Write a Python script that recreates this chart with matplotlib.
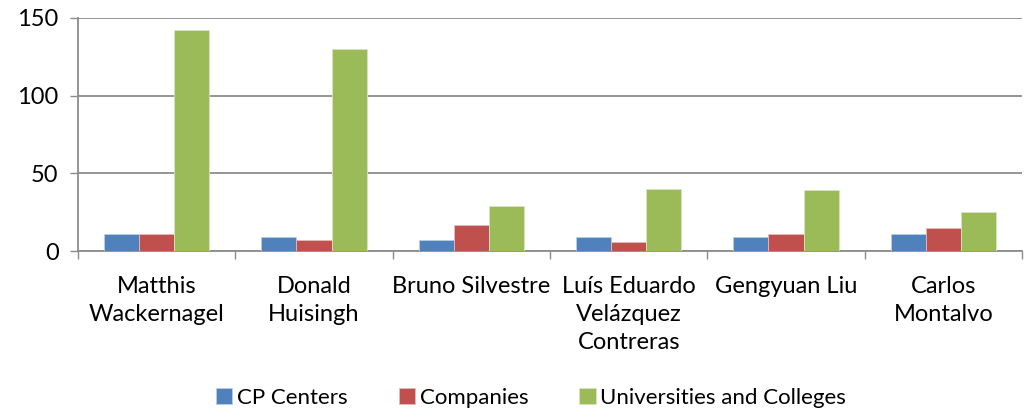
import matplotlib.pyplot as plt
import numpy as np

names = ["Matthis\nWackernagel", "Donald\nHuisingh", "Bruno Silvestre",
         "Luís Eduardo\nVelázquez\nContreras", "Gengyuan Liu", "Carlos\nMontalvo"]
cp_centers = [11, 9, 7, 9, 9, 11]
companies = [11, 7, 17, 6, 11, 15]
universities = [142, 130, 29, 40, 39, 25]

series = ["CP Centers", "Companies", "Universities and Colleges"]
colors = ["#4F81BD", "#C0504D", "#9BBB59"]
edges = ["#B9CDE5", "#E6B9B8", "#D7E4BD"]


def main():
    plt.rcParams['font.family'] = ['Lato', 'DejaVu Sans']
    fig = plt.figure(figsize=(10.24, 4.12), dpi=100)
    ax = fig.add_axes([78 / 1024, 1 - 251 / 412, 944 / 1024, 233 / 412])

    x = np.arange(len(names))
    w = 0.223
    for i, vals in enumerate([cp_centers, companies, universities]):
        ax.bar(x + (i - 1) * w, vals, w, color=colors[i], edgecolor=edges[i],
               linewidth=0.6, label=series[i], zorder=3)

    ax.set_xlim(-0.5, len(names) - 0.5)
    ax.set_ylim(0, 150)
    ax.set_yticks([0, 50, 100, 150])
    ax.yaxis.grid(True, color="#8C8C8C", linewidth=1.3, zorder=0)

    # category boundaries as major ticks, labels on minor ticks
    ax.set_xticks(np.arange(len(names) + 1) - 0.5)
    ax.set_xticklabels([])
    ax.set_xticks(x, minor=True)
    ax.set_xticklabels(names, minor=True, fontsize=17, linespacing=1.4,
                       va="top")
    ax.tick_params(axis="x", which="minor", length=0, pad=18)
    ax.tick_params(axis="x", which="major", length=6, width=1, color="#8C8C8C")
    ax.tick_params(axis="y", length=6, width=1, color="#8C8C8C", labelsize=17,
                   pad=8)

    for s in ["top", "right"]:
        ax.spines[s].set_visible(False)
    for s in ["left", "bottom"]:
        ax.spines[s].set_color("#8C8C8C")
        ax.spines[s].set_linewidth(1.3)

    fig.legend(loc="center", bbox_to_anchor=(531 / 1024, 1 - 398 / 412),
               ncol=3, frameon=False, fontsize=16, handlelength=0.75,
               handleheight=0.75, handletextpad=0.2, columnspacing=2.3)

    fig.savefig("out.png", dpi=100)


if __name__ == '__main__':
    main()
